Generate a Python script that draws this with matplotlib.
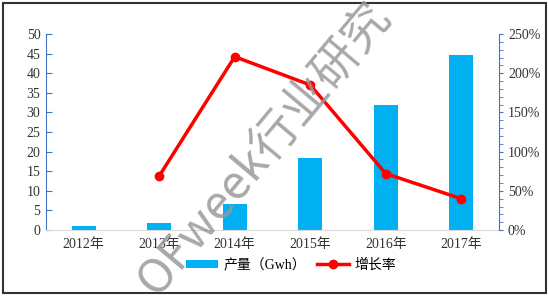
import matplotlib
matplotlib.use("Agg")
import matplotlib.pyplot as plt
from matplotlib.patches import Rectangle
from matplotlib.ticker import MultipleLocator, PercentFormatter

plt.rcParams['font.family'] = ['Liberation Serif', 'Noto Sans CJK SC', 'DejaVu Sans']

years = ['2012年', '2013年', '2014年', '2015年', '2016年', '2017年']
output_gwh = [1.0, 1.8, 6.6, 18.4, 31.9, 44.6]
growth_pct = [None, 69, 221, 185, 72, 40]

blue = '#00b0f0'
red = '#ff0000'
axis_blue = '#4472c4'

fig = plt.figure(figsize=(5.49, 2.98), dpi=100)
ax = fig.add_axes([0.0838, 0.228, 0.825, 0.658])
x = list(range(len(years)))

bars = ax.bar(x, output_gwh, width=0.32, color=blue, label='产量（Gwh）', zorder=2)
ax.set_xlim(-0.5, 5.5)
ax.set_ylim(0, 50)
ax.yaxis.set_major_locator(MultipleLocator(5))
ax.set_xticks(x)
ax.set_xticklabels(years, fontsize=10)
ax.tick_params(axis='x', length=0, pad=6, labelsize=10, colors='#333333')
ax.tick_params(axis='y', direction='in', length=4, color=axis_blue, labelsize=10, labelcolor='#333333', pad=4)
for s in ['top', 'right']:
    ax.spines[s].set_visible(False)
ax.spines['left'].set_color(axis_blue)
ax.spines['bottom'].set_color('#d9d9d9')

ax2 = ax.twinx()
gx = [i for i, v in zip(x, growth_pct) if v is not None]
gy = [v for v in growth_pct if v is not None]
line, = ax2.plot(gx, gy, color=red, lw=2.5, marker='o', ms=6, label='增长率', zorder=3)
ax2.set_ylim(0, 250)
ax2.yaxis.set_major_locator(MultipleLocator(50))
ax2.yaxis.set_minor_locator(MultipleLocator(10))
ax2.yaxis.set_major_formatter(PercentFormatter(decimals=0))
ax2.tick_params(axis='y', which='both', direction='out', length=3, color=axis_blue, labelsize=10, labelcolor='#333333')
for s in ['top', 'left', 'bottom']:
    ax2.spines[s].set_visible(False)
ax2.spines['right'].set_color(axis_blue)

fig.legend([bars, line], ['产量（Gwh）', '增长率'], loc='center', bbox_to_anchor=(0.53, 0.11),
           ncol=2, frameon=False, fontsize=10, handlelength=2.3, handleheight=0.6,
           columnspacing=0.8, handletextpad=0.4)

# watermark
fig.text(0.483, 0.50, 'OFweek行业研究', rotation=50, fontsize=34, color='#999999', alpha=0.85,
         ha='center', va='center', family=['Noto Sans CJK SC', 'DejaVu Sans'], zorder=10)

# outer frame
fig.patches.append(Rectangle((0.006, 0.016), 0.988, 0.974, transform=fig.transFigure,
                             fill=False, edgecolor='#333333', lw=1.5))

fig.savefig('out.png', dpi=100)
